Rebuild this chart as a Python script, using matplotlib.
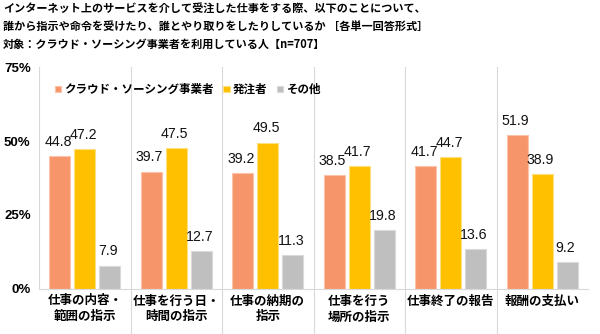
import numpy as np
import matplotlib.pyplot as plt

plt.rcParams['font.family'] = ['Noto Sans CJK JP', 'DejaVu Sans']

categories = ['仕事の内容・\n範囲の指示', '仕事を行う日・\n時間の指示', '仕事の納期の\n指示',
              '仕事を行う\n場所の指示', '仕事終了の報告', '報酬の支払い']
series_names = ['クラウド・ソーシング事業者', '発注者', 'その他']
crowd = [44.8, 39.7, 39.2, 38.5, 41.7, 51.9]
client = [47.2, 47.5, 49.5, 41.7, 44.7, 38.9]
other = [7.9, 12.7, 11.3, 19.8, 13.6, 9.2]
yticks = [0, 25, 50, 75]

colors = ['#F7956A', '#FFC000', '#BFBFBF']
edges = ['#FBC3A8', '#FFE07F', '#DADADA']

fig = plt.figure(figsize=(6, 3.34), dpi=100)
ax = fig.add_axes([0.065, 0.135, 0.915, 0.664])

x = np.arange(len(categories))
width = 0.23
step = 0.272
for i, (vals, name) in enumerate(zip([crowd, client, other], series_names)):
    pos = x + (i - 1) * step
    ax.bar(pos, vals, width, color=colors[i], edgecolor=edges[i], linewidth=0.8, label=name)
    for px, v in zip(pos, vals):
        ax.text(px - 0.02, v + 2.4, f'{v:.1f}', ha='center', va='bottom', fontsize=10.2,
                family='Liberation Sans', color='#111111')

ax.set_xlim(-0.5, len(categories) - 0.5)
ax.set_ylim(0, 75)
ax.set_yticks(yticks)
ax.set_yticklabels([f'{t}%' for t in yticks], fontsize=9.5, fontweight='bold',
                   family='Liberation Sans')
ax.set_xticks(x)
ax.set_xticklabels(categories, fontsize=9, fontweight='bold', linespacing=1.3, va='top')
ax.tick_params(length=0, pad=4)
ax.tick_params(axis='y', pad=6)

for s in ['top', 'right', 'left']:
    ax.spines[s].set_visible(False)
ax.spines['bottom'].set_color('#D9D9D9')

# category separators, running down through the label area
tr = ax.get_xaxis_transform()
ax.plot([-0.5, -0.5], [0, 1], color='#D9D9D9', lw=0.8, transform=tr)
for b in x[:-1] + 0.5:
    ax.plot([b, b], [-0.21, 1], color='#D9D9D9', lw=0.8, transform=tr, clip_on=False)

leg = ax.legend(loc='upper left', bbox_to_anchor=(0.01, 0.975), ncol=3, frameon=False,
                handlelength=0.55, handleheight=0.55, handletextpad=0.3,
                columnspacing=0.8, prop={'weight': 'bold', 'size': 8.3})

title = ('インターネット上のサービスを介して受注した仕事をする際、以下のことについて、\n'
         '誰から指示や命令を受けたり、誰とやり取りをしたりしているか ［各単一回答形式］\n'
         '対象：クラウド・ソーシング事業者を利用している人【n=707】')
fig.text(0.005, 0.995, title, ha='left', va='top', fontsize=8, fontweight='bold', linespacing=1.5)

fig.savefig('out.png', dpi=100)
